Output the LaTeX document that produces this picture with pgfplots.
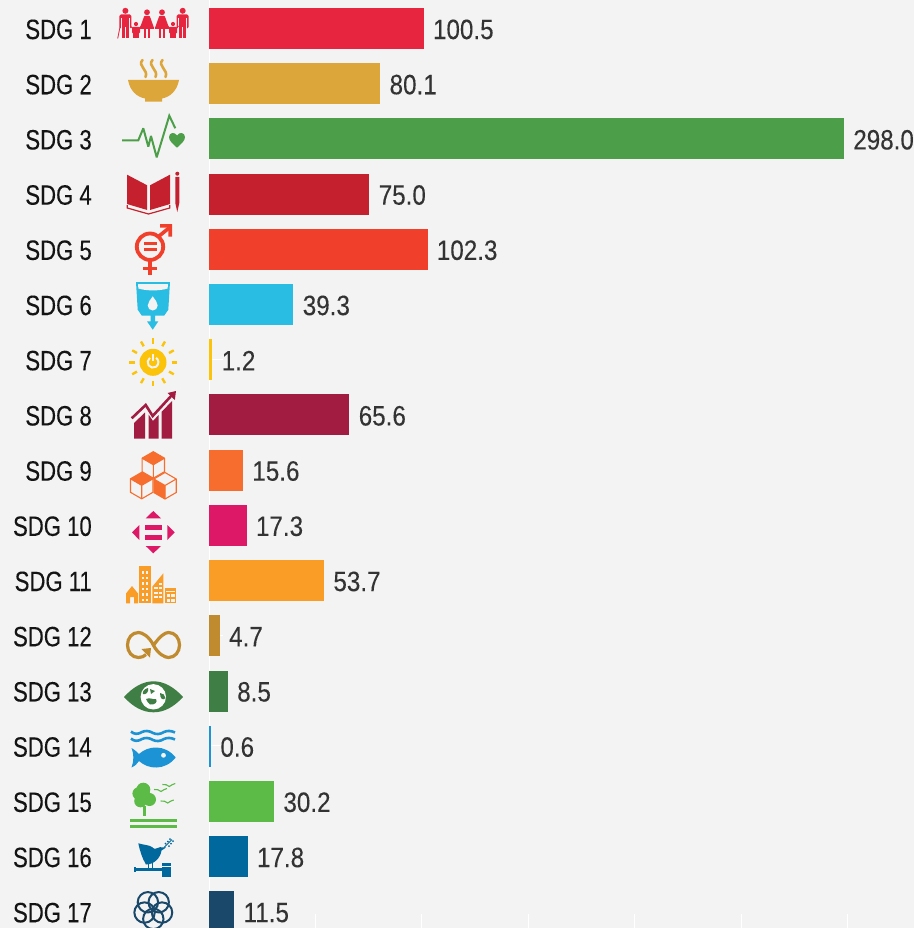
\documentclass[border=0pt]{standalone}
\usepackage{pgfplots}
\pgfplotsset{compat=1.18}
\usepackage{fontspec}
\setmainfont{Liberation Sans}
\newfontfamily\lblfont[FakeStretch=0.79,FakeBold=0.12]{Liberation Sans}
\newfontfamily\valfont[FakeStretch=0.865,FakeBold=0.12]{Liberation Sans}
\definecolor{bg}{HTML}{F3F3F3}
\definecolor{s1}{HTML}{E8253F}
\definecolor{s2}{HTML}{DDA63A}
\definecolor{s3}{HTML}{4C9F48}
\definecolor{s4}{HTML}{C5202D}
\definecolor{s5}{HTML}{F0402B}
\definecolor{s6}{HTML}{29BDE3}
\definecolor{s7}{HTML}{FCC30B}
\definecolor{s8}{HTML}{A21C42}
\definecolor{s9}{HTML}{F66D2D}
\definecolor{s10}{HTML}{DD1867}
\definecolor{s11}{HTML}{FA9D27}
\definecolor{s12}{HTML}{BF8B2E}
\definecolor{s13}{HTML}{3F7E44}
\definecolor{s14}{HTML}{1C93D4}
\definecolor{s15}{HTML}{5CBB46}
\definecolor{s16}{HTML}{00689D}
\definecolor{s17}{HTML}{19486A}
\newcommand\sdgbar[3]{\addplot[fill=#1,draw=#1,line width=.3pt] coordinates {(#2,#3)};}
\newcommand\man[1]{%
  \fill (#1,10.8) circle (3);
  \fill[rounded corners=1.5] (#1-6,14.5) rectangle (#1+6,28.5);
  \fill (#1-3.7,18) rectangle (#1+3.7,38.5);
  \fill[bg] (#1-0.35,27) rectangle (#1+0.35,39);
  \fill[bg] (#1-4.3,18.5) rectangle (#1-3.7,30);
  \fill[bg] (#1+3.7,18.5) rectangle (#1+4.3,30);
}
\newcommand\woman[1]{%
  \fill (#1,12.3) circle (2.9);
  \fill[rounded corners=.8] (#1-2.7,15.8) -- (#1+2.7,15.8) -- (#1+7.4,29) -- (#1-7.4,29) -- cycle;
  \fill (#1-3.2,27) rectangle (#1-.6,38.5);
  \fill (#1+.6,27) rectangle (#1+3.2,38.5);
}
\newcommand\child[1]{%
  \fill (#1,24) circle (2.1);
  \fill[rounded corners=.8] (#1-4,26.8) rectangle (#1+4,33.3);
  \fill (#1-2.6,28) rectangle (#1-.3,38.5);
  \fill (#1+.3,28) rectangle (#1+2.6,38.5);
}
\newcommand\cube[3]{%
  \draw[line width=1.1] (#1,#2) -- (#1+11.2,#2+6.5) -- (#1+11.2,#2+20) -- (#1,#2+26.5) -- (#1-11.2,#2+20) -- (#1-11.2,#2+6.5) -- cycle;
  \draw[line width=1.1] (#1-11.2,#2+6.5) -- (#1,#2+13) -- (#1+11.2,#2+6.5) (#1,#2+13) -- (#1,#2+26.5);
  \ifnum#3=0 \fill (#1,#2) -- (#1+11.2,#2+6.5) -- (#1,#2+13) -- (#1-11.2,#2+6.5) -- cycle;
  \else \fill (#1-11.2,#2+6.5) -- (#1,#2+13) -- (#1,#2+26.5) -- (#1-11.2,#2+20) -- cycle; \fi
}
\begin{document}
\begin{tikzpicture}
\path[use as bounding box] (0,0) rectangle (914pt,-928pt);
\clip (0,0) rectangle (914pt,-928pt);
\fill[bg] (0,0) rectangle (914pt,-928pt);
\begin{axis}[
  at={(209pt,-928pt)}, anchor=south west,
  scale only axis, width=705pt, height=928pt,
  xmin=0, xmax=331.3,
  y dir=reverse, ymin=-0.511, ymax=16.3,
  axis line style={draw=none},
  xbar, bar width=40pt, bar shift=0pt,
  xtick={50,100,150,200,250,300}, xticklabels={},
  extra x ticks={0}, extra x tick labels={},
  extra x tick style={grid=major, major grid style={white,line width=1pt}},
  ytick={0,...,16},
  yticklabels={SDG 1,SDG 2,SDG 3,SDG 4,SDG 5,SDG 6,SDG 7,SDG 8,SDG 9,SDG 10,SDG 11,SDG 12,SDG 13,SDG 14,SDG 15,SDG 16,SDG 17},
  yticklabel style={font=\lblfont\fontsize{28}{28}\selectfont, text=black!92, xshift=-113.7pt, yshift=-1.2pt},
  tick pos=left, xtick pos=bottom,
  tick align=inside, major tick length=14pt,
  tick style={white,line width=.8pt},
  point meta=x,
  nodes near coords,
  every node near coord/.append style={font=\valfont\fontsize{28}{28}\selectfont, text=black!80, anchor=west, inner sep=0pt, xshift=10pt, yshift=-1.2pt,
    /pgf/number format/fixed, /pgf/number format/fixed zerofill, /pgf/number format/precision=1, /pgf/number format/assume math mode=true},
]
\sdgbar{s1}{100.5}{0}
\sdgbar{s2}{80.1}{1}
\sdgbar{s3}{298.0}{2}
\sdgbar{s4}{75.0}{3}
\sdgbar{s5}{102.3}{4}
\sdgbar{s6}{39.3}{5}
\sdgbar{s7}{1.2}{6}
\sdgbar{s8}{65.6}{7}
\sdgbar{s9}{15.6}{8}
\sdgbar{s10}{17.3}{9}
\sdgbar{s11}{53.7}{10}
\sdgbar{s12}{4.7}{11}
\sdgbar{s13}{8.5}{12}
\sdgbar{s14}{0.6}{13}
\sdgbar{s15}{30.2}{14}
\sdgbar{s16}{17.8}{15}
\sdgbar{s17}{11.5}{16}
\end{axis}
\begin{scope}[x=1pt,y=-1pt]
% SDG 1
\begin{scope}[color=s1]
\man{125.4}\woman{147}\woman{162}\man{182.7}\child{136}\child{173}
\draw[line width=.8] (117.7,38.5) -- (120,27);
\draw[line width=.8] (130.5,26) -- (133,29) (139,29) -- (142.5,24) (166.5,24) -- (170,29) (176,29) -- (178.5,26);
\end{scope}
% SDG 2
\begin{scope}[color=s2]
\fill (128,80) -- (179,80) .. controls (177,91) and (170,97) .. (162,98.5) -- (162,101.7) -- (145,101.7) -- (145,98.5) .. controls (137,97) and (130,91) .. (128,80) -- cycle;
\foreach \x in {0,10,20}{
 \draw[line width=2.6,line cap=round] (142.5+\x,60) .. controls (137+\x,66) and (149+\x,70) .. (145.5+\x,77);
}
\end{scope}
% SDG 3
\begin{scope}[color=s3]
\draw[line width=2,miter limit=3] (122,140.3) -- (138.3,140.3) -- (143.3,128.3) -- (148.3,146.7) -- (151,136) -- (156.7,157.3) -- (169.3,115.7) -- (175.3,128.3);
\fill (177,147.7) .. controls (173,144) and (169,141) .. (169,137) .. controls (169,132.5) and (175,131.5) .. (177,135.5) .. controls (179,131.5) and (185,132.5) .. (185,137) .. controls (185,141) and (181,144) .. (177,147.7) -- cycle;
\end{scope}
% SDG 4
\begin{scope}[color=s4]
\fill (127,174.7) -- (147.2,185.3) -- (147.2,210) -- (127,204) -- cycle;
\fill (150,185.3) -- (170,174.7) -- (170,204) -- (150,210) -- cycle;
\draw[line width=1.2] (127.3,205) -- (127.3,208) -- (148.5,214) -- (169.7,208) -- (169.7,205);
\fill (177.3,173.7) circle (2);
\fill (175.3,177) -- (179.3,177) -- (179.3,203) -- (177.3,212) -- (175.3,203) -- cycle;
\end{scope}
% SDG 5
\begin{scope}[color=s5]
\draw[line width=3.8] (150,246.7) circle (13.2);
\fill (143.5,242.3) rectangle (157,245.4);
\fill (143.5,248) rectangle (157,251.1);
\fill (148.2,261) rectangle (151.8,274.5);
\fill (143.2,266.5) rectangle (157.3,270);
\draw[line width=3.6] (158.5,236.5) -- (169,228);
\fill (160,224) -- (172,224) -- (172,236.5) -- (168.3,236.5) -- (168.3,227.7) -- (160,227.7) -- cycle;
\end{scope}
% SDG 6
\begin{scope}[color=s6]
\fill (136,282) -- (170,282) -- (168.3,309.7) -- (164.3,315.5) -- (155,315.5) -- (155,321.3) -- (158.3,321.3) -- (152.7,329.7) -- (147,321.3) -- (150.7,321.3) -- (150.7,315.5) -- (141.7,315.5) -- (137.7,309.7) -- cycle;
\fill[bg] (138,284) -- (168,284) -- (167.6,288.5) .. controls (160,291) and (146,291) .. (138.4,288.5) -- cycle;
\fill[bg] (152.7,296.3) .. controls (150.5,300) and (147.7,302) .. (147.7,305.5) arc[start angle=180,end angle=0,radius=5] .. controls (157.7,302) and (155,300) .. (152.7,296.3) -- cycle;
\end{scope}
% SDG 7
\begin{scope}[color=s7, shift={(153,362.3)}]
\fill (0,0) circle (13.5);
\draw[bg,line width=2] (-3,-4.5) arc[start angle=236,end angle=-56,radius=5.4];
\draw[bg,line width=2] (0,-8) -- (0,-1);
\foreach \a in {0,30,...,330}{ \draw[line width=2.4] (\a:18.5) -- (\a:24); }
\end{scope}
% SDG 8
\begin{scope}[color=s8]
\fill (134,423) -- (145,412.5) -- (145,438.5) -- (134,438.5) -- cycle;
\fill (148.5,414.5) -- (153,421) -- (158.5,415) -- (158.5,438.5) -- (148.5,438.5) -- cycle;
\fill (161.5,412) -- (172,401) -- (172,438.5) -- (161.5,438.5) -- cycle;
\draw[line width=2.6] (131.7,418.3) -- (145.7,405) -- (152.7,416) -- (172,395);
\fill (176,391) -- (174.8,400) -- (167.5,393) -- cycle;
\end{scope}
% SDG 9
\begin{scope}[color=s9]
\cube{153.3}{451.7}{0}
\cube{141.7}{472.3}{0}
\cube{165}{472.5}{1}
\end{scope}
% SDG 10
\begin{scope}[color=s10]
\fill (153.3,511) -- (145.7,518.3) -- (161,518.3) -- cycle;
\fill (145.7,546) -- (161,546) -- (153.3,553.3) -- cycle;
\fill (139.3,525) -- (139.3,540) -- (132,532.3) -- cycle;
\fill (167.3,525) -- (167.3,540) -- (174.7,532.3) -- cycle;
\fill (145,525) rectangle (161.7,530);
\fill (145,534.7) rectangle (161.7,539.7);
\end{scope}
% SDG 11
\begin{scope}[color=s11]
\fill (126,603.3) -- (126,593.5) -- (132,586) -- (138,593.5) -- (138,603.3) -- (134,603.3) -- (134,597) -- (130,597) -- (130,603.3) -- cycle;
\fill (139.3,566) rectangle (150.7,603.3);
\foreach \r in {571,576.5,582,587.5,593,598.5}{
  \fill[bg] (141.6,\r) rectangle (144,\r+2.5);
  \fill[bg] (146,\r) rectangle (148.4,\r+2.5);
}
\fill (152.3,586.7) -- (163.3,573.3) -- (163.3,603.3) -- (152.3,603.3) -- cycle;
\foreach \r in {587,591.5,596}{\fill[bg] (154,\r) rectangle (158,\r+2); \fill[bg] (159,\r) rectangle (162,\r+2);}
\fill[bg] (159,582.5) rectangle (162,584.5);
\fill (165,588.3) rectangle (176,603.3);
\fill[bg] (166,591) rectangle (175,592);
\foreach \r in {594,599}{\fill[bg] (166.5,\r) rectangle (170,\r+2.5); \fill[bg] (171,\r) rectangle (174.5,\r+2.5);}
\end{scope}
% SDG 12
\begin{scope}[color=s12]
\draw[line width=3.2] (153.5,645.3) .. controls (160,636) and (165,632.5) .. (168.5,632.5) .. controls (175,632.5) and (179.5,638) .. (179.5,645) .. controls (179.5,652) and (175,657.5) .. (168.5,657.5) .. controls (165,657.5) and (158,654) .. (153.5,645.3) .. controls (149,636) and (142,632.5) .. (138.5,632.5) .. controls (132,632.5) and (127.5,638) .. (127.5,645) .. controls (127.5,652) and (132,657.5) .. (138.5,657.5) .. controls (141.5,657.5) and (144,656.5) .. (146,654.5);
\fill (141.5,649) -- (151,648) -- (150,657.5) -- cycle;
\end{scope}
% SDG 13
\begin{scope}[color=s13]
\fill (124,697) .. controls (133,687) and (143,681.3) .. (153.5,681.3) .. controls (164,681.3) and (174,687) .. (183,697) .. controls (174,707) and (164,712.3) .. (153.5,712.3) .. controls (143,712.3) and (133,707) .. (124,697) -- cycle;
\fill[white!95!bg] (153.3,696.8) circle (12.7);
\fill (148,688) .. controls (144,689) and (142,692) .. (143,694) .. controls (146,695) and (149,692) .. (148,688) -- cycle;
\fill (146,699) .. controls (150,697) and (153,700) .. (156,699) .. controls (158,702) and (155,705) .. (150,704.5) .. controls (148,703) and (147,701) .. (146,699) -- cycle;
\fill (160,693) .. controls (163,693) and (165,695) .. (165.5,698) .. controls (163,701) and (160,699) .. (160,693) -- cycle;
\fill (150,689) -- (155,691) -- (151,694) -- cycle;
\end{scope}
% SDG 14
\begin{scope}[color=s14]
\foreach \y in {732.5,739.5}{
 \draw[line width=2.6] (131,\y-1) .. controls (134,\y+2) and (138,\y+2) .. (142,\y-.5) .. controls (145,\y-2) and (149,\y-2) .. (153,\y+.5) .. controls (156,\y+2) and (160,\y+2) .. (164,\y-.5) .. controls (167,\y-2) and (171,\y-2) .. (175,\y);
}
\fill (131.5,748) .. controls (135,750) and (137,752) .. (139,754) .. controls (148,745.5) and (165,744) .. (175.7,757.5) .. controls (165,771) and (148,769.5) .. (139,761) .. controls (137,764) and (135,766) .. (131.5,767.5) .. controls (134,761) and (134,754) .. (131.5,748) -- cycle;
\fill[bg] (163.5,755.3) circle (2.4);
\end{scope}
% SDG 15
\begin{scope}[color=s15]
\fill (143.3,789.7) circle (7);
\fill (138.7,793.5) circle (6.3);
\fill (149.5,799.5) circle (6.5);
\fill (140.5,801) circle (6.3);
\fill (145,796) circle (6);
\fill (142.7,806) rectangle (146,816.3);
\fill (130,819.3) rectangle (176.7,822.2);
\fill (130,825.3) rectangle (176.7,828.2);
\foreach \bx/\by in {161/790,169.3/785,167.7/801.5}{
 \draw[line width=1.1] (\bx-7,\by-.5) .. controls (\bx-4,\by-1) and (\bx-2,\by) .. (\bx,\by+1.5) .. controls (\bx+2,\by) and (\bx+4,\by-1) .. (\bx+6,\by-1.5);
}
\end{scope}
% SDG 16
\begin{scope}[color=s16]
\fill (138.3,843.3) .. controls (144,845) and (149,845) .. (152,847) .. controls (155,851) and (157,847) .. (160,847.2) -- (166,847.5) -- (161.5,850.5) .. controls (160.5,858) and (154,864.5) .. (146,864.5) .. controls (142,858) and (140,851) .. (138.3,843.3) -- cycle;
\fill (147.8,863) rectangle (149,868.5);
\fill (151.8,863) rectangle (153,868.5);
\fill (134.3,867.7) rectangle (162,870.7);
\fill (134.3,866.8) rectangle (135.5,871.6);
\fill (161.7,863.3) rectangle (170.5,876.5);
\fill[bg] (161.7,866) rectangle (170.5,866.5);
\draw[line width=.8] (164,847.5) -- (172,839.5);
\foreach \lx/\ly in {165.5/843.7,167.8/841.5,170/839,169/846,171/843.7,173/841}{
 \fill (\lx,\ly) circle (1);
}
\end{scope}
% SDG 17
\begin{scope}[color=s17]
\foreach \a in {90,162,234,306,18}{
 \draw[line width=2] (153.3,909.7) ++(\a:9.2) circle (10.2);
}
\end{scope}
\end{scope}
\end{tikzpicture}
\end{document}
